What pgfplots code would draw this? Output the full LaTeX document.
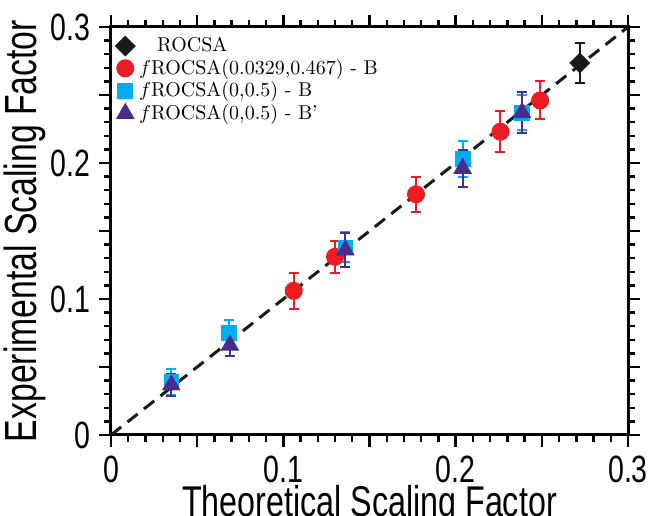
\documentclass[border=0pt]{standalone}
\usepackage{fontspec}
\usepackage{pgfplots}
\pgfplotsset{compat=1.18}
\newfontfamily\narrowfont{Liberation Sans}[FakeStretch=0.75]
\definecolor{ptRed}{HTML}{ED1C24}
\definecolor{ptCyan}{HTML}{00AEEF}
\definecolor{ptPurple}{HTML}{4A2C8E}
\definecolor{ptBlack}{HTML}{1A1A1A}

\begin{document}
\begin{tikzpicture}
  \begin{axis}[
    scale only axis,
    width=258.5pt, height=204pt,
    xmin=0, xmax=0.3, ymin=0, ymax=0.3,
    axis line style={line width=1.5pt},
    tick align=outside,
    major tick length=6pt, minor tick length=3.5pt,
    every tick/.style={black, line width=1.2pt},
    xtick={0,0.05,...,0.3}, ytick={0,0.05,...,0.3},
    xticklabels={0,,0.1,,0.2,,0.3},
    yticklabels={0,,0.1,,0.2,,0.3},
    minor tick num=4,
    /pgf/number format/assume math mode=true,
    ticklabel style={font=\narrowfont\fontsize{19}{21}\selectfont},
    xticklabel style={yshift=-1pt},
    yticklabel style={xshift=-1pt},
    every axis x label/.style={at={(axis description cs:0.5,-0.172)}, anchor=center,
      font=\narrowfont\fontsize{21.5}{24}\selectfont},
    every axis y label/.style={at={(axis description cs:-0.166,0.5)}, rotate=90, anchor=center,
      font=\narrowfont\fontsize{22.5}{25}\selectfont},
    xlabel={Theoretical Scaling Factor},
    ylabel={Experimental Scaling Factor},
    legend style={at={(0,1)}, anchor=north west, draw=none, fill=none,
      font=\fontsize{10}{11.5}\selectfont, inner xsep=2pt, inner ysep=3pt,
      row sep=-1.7pt},
    legend cell align=left,
    error bars/error bar style={line width=1pt},
    error bars/error mark=|,
    error bars/error mark options={line width=1pt, mark size=2.5pt},
  ]
    % ROCSA
    \addplot[only marks, mark=square*, mark options={rotate=45}, mark size=3.5pt, color=ptBlack,
      error bars/.cd, y dir=both, y explicit]
      coordinates {(0.272,0.2735) +- (0,0.015)};
    \addlegendentry{\hspace{9pt}ROCSA}

    % fROCSA(0.0329,0.467) - B
    \addplot[only marks, mark=*, mark size=4.3pt, color=ptRed,
      error bars/.cd, y dir=both, y explicit]
      coordinates {
        (0.106,0.106) +- (0,0.013)
        (0.130,0.131) +- (0,0.012)
        (0.177,0.177) +- (0,0.013)
        (0.226,0.223) +- (0,0.015)
        (0.249,0.246) +- (0,0.014)
      };
    \addlegendentry{$f$ROCSA(0.0329,0.467) - B}

    % fROCSA(0,0.5) - B
    \addplot[only marks, mark=square*, mark size=3.7pt, color=ptCyan,
      error bars/.cd, y dir=both, y explicit]
      coordinates {
        (0.035,0.039) +- (0,0.0095)
        (0.0685,0.075) +- (0,0.0095)
        (0.136,0.138) +- (0,0.011)
        (0.204,0.203) +- (0,0.013)
        (0.2385,0.237) +- (0,0.013)
      };
    \addlegendentry{$f$ROCSA(0,0.5) - B}

    % fROCSA(0,0.5) - B'
    \addplot[only marks, mark=triangle*, mark size=5pt, color=ptPurple,
      error bars/.cd, y dir=both, y explicit]
      coordinates {
        (0.035,0.0368) +- (0,0.008)
        (0.069,0.066) +- (0,0.008)
        (0.136,0.136) +- (0,0.0125)
        (0.204,0.196) +- (0,0.0135)
        (0.2385,0.237) +- (0,0.015)
      };
    \addlegendentry{$f$ROCSA(0,0.5) - B'}

    % y = x reference
    \addplot[line width=1.5pt, ptBlack, dash pattern=on 6.5pt off 4pt, forget plot]
      coordinates {(0,0) (0.3,0.3)};

    \coordinate (bl) at (rel axis cs:0,0);
    \coordinate (tr) at (rel axis cs:1,1);
  \end{axis}
  \pgfresetboundingbox
  \path ([xshift=-55.5pt,yshift=-40.5pt]bl) rectangle ([xshift=12pt,yshift=13.5pt]tr);
\end{tikzpicture}
\end{document}
